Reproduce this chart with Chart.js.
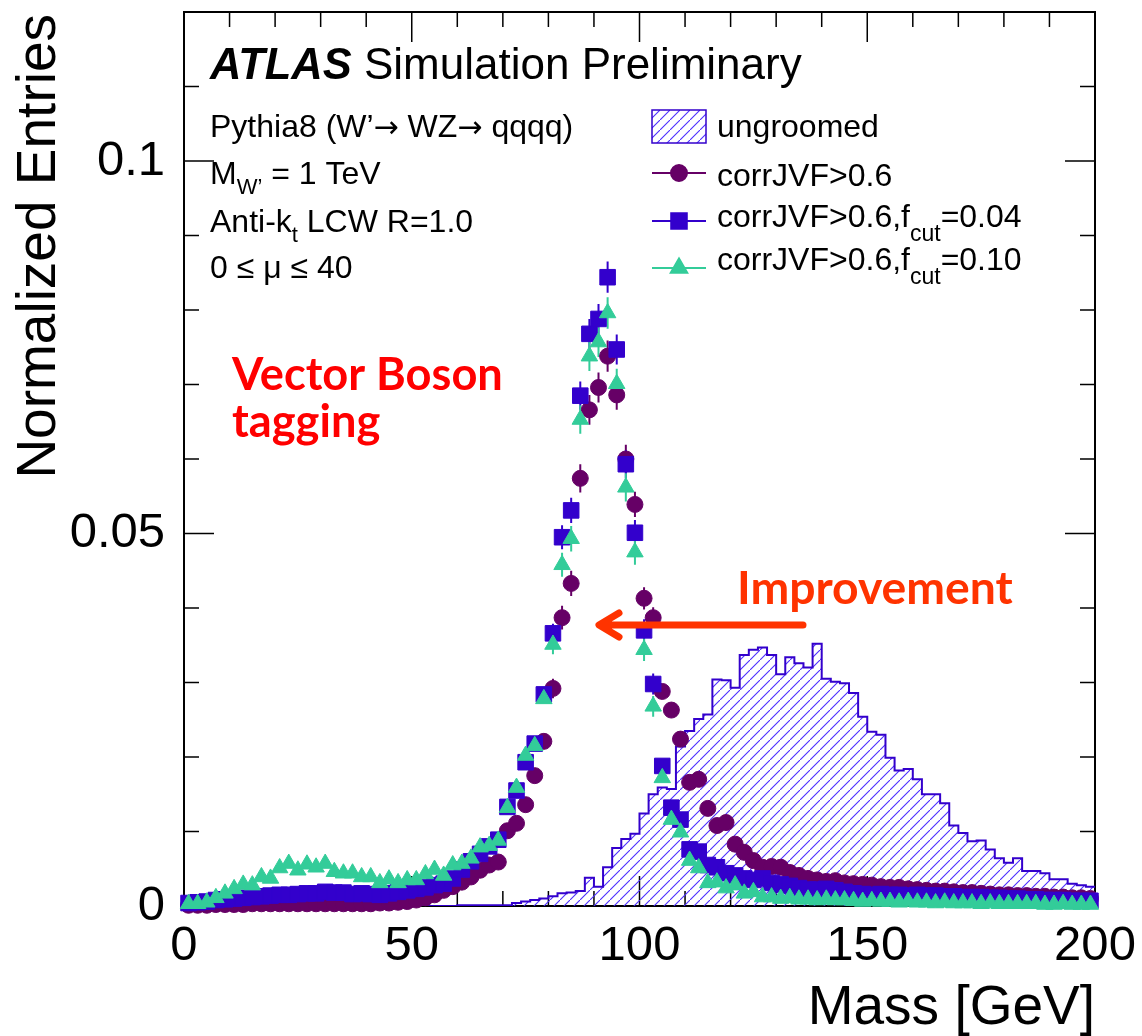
<!DOCTYPE html>
<html>
<head>
<meta charset="utf-8">
<script src="https://cdn.jsdelivr.net/npm/chart.js@4.4.1/dist/chart.umd.min.js"></script>
<style>
html, body { margin: 0; padding: 0; background: #fff; }
canvas { display: block; }
</style>
</head>
<body>
<canvas id="massChart" width="1142" height="1036"></canvas>
<script>
// bin centres in GeV (2 GeV bins)
var binCentres = [1, 3, 5, 7, 9, 11, 13, 15, 17, 19,
    21, 23, 25, 27, 29, 31, 33, 35, 37, 39,
    41, 43, 45, 47, 49, 51, 53, 55, 57, 59,
    61, 63, 65, 67, 69, 71, 73, 75, 77, 79,
    81, 83, 85, 87, 89, 91, 93, 95, 97, 99,
    101, 103, 105, 107, 109, 111, 113, 115, 117, 119,
    121, 123, 125, 127, 129, 131, 133, 135, 137, 139,
    141, 143, 145, 147, 149, 151, 153, 155, 157, 159,
    161, 163, 165, 167, 169, 171, 173, 175, 177, 179,
    181, 183, 185, 187, 189, 191, 193, 195, 197, 199];
var binWidth = 2;

var ungroomed = [0, 0, 0, 0, 0, 0, 0, 0, 0, 0,
    0, 0, 0, 0, 0, 0, 0, 0, 0, 0,
    0, 0, 0, 0, 0, 0, 0, 0, 0, 0,
    0.0001, 0.0001, 0.0001, 0.0001, 0.0001, 0.0001, 0.0004, 0.0006, 0.0008, 0.0010,
    0.0013, 0.0017, 0.0018, 0.0020, 0.0038, 0.0026, 0.0052, 0.0078, 0.0090, 0.0097,
    0.0124, 0.0150, 0.0159, 0.0157, 0.0214, 0.0235, 0.0251, 0.0257, 0.0304, 0.0303,
    0.0293, 0.0337, 0.0344, 0.0347, 0.0337, 0.0311, 0.0334, 0.0326, 0.0320, 0.0352,
    0.0305, 0.0301, 0.0299, 0.0286, 0.0254, 0.0234, 0.0230, 0.0199, 0.0182, 0.0184,
    0.0170, 0.0150, 0.0150, 0.0138, 0.0108, 0.0098, 0.0087, 0.0088, 0.0076, 0.0064,
    0.0058, 0.0064, 0.0047, 0.0047, 0.0044, 0.0036, 0.0036, 0.0030, 0.0028, 0.0026];

var corrJVF = [0.0001, 0.0001, 0.0001, 0.0002, 0.0002, 0.0002, 0.0002, 0.0003, 0.0003, 0.0003,
    0.0003, 0.0003, 0.0003, 0.0003, 0.0003, 0.0003, 0.0003, 0.0003, 0.0003, 0.0003,
    0.0003, 0.0004, 0.0004, 0.0005, 0.0006, 0.0008, 0.0011, 0.0015, 0.0021, 0.0026,
    0.0032, 0.0039, 0.0048, 0.0055, 0.0059, 0.0101, 0.0111, 0.0136, 0.0175, 0.0221,
    0.0292, 0.0387, 0.0433, 0.0574, 0.0666, 0.0696, 0.0738, 0.0686, 0.0600, 0.0539,
    0.0413, 0.0387, 0.0288, 0.0263, 0.0224, 0.0166, 0.0170, 0.0131, 0.0108, 0.0112,
    0.0083, 0.0072, 0.0061, 0.0052, 0.0053, 0.0052, 0.0045, 0.0041, 0.0037, 0.0035,
    0.0033, 0.0034, 0.0031, 0.0030, 0.0029, 0.0028, 0.0026, 0.0025, 0.0025, 0.0023,
    0.0022, 0.0021, 0.0020, 0.0020, 0.0019, 0.0018, 0.0018, 0.0017, 0.0016, 0.0015,
    0.0015, 0.0014, 0.0014, 0.0013, 0.0013, 0.0012, 0.0012, 0.0011, 0.0011, 0.0010];

var corrJVFcut04 = [0.0004, 0.0005, 0.0006, 0.0008, 0.0009, 0.0010, 0.0011, 0.0012, 0.0013, 0.0014,
    0.0015, 0.0015, 0.0016, 0.0017, 0.0017, 0.0019, 0.0018, 0.0018, 0.0016, 0.0017,
    0.0016, 0.0015, 0.0017, 0.0019, 0.0021, 0.0023, 0.0025, 0.0028, 0.0030, 0.0037,
    0.0049, 0.0060, 0.0070, 0.0080, 0.0089, 0.0133, 0.0155, 0.0193, 0.0218, 0.0284,
    0.0366, 0.0495, 0.0531, 0.0685, 0.0768, 0.0788, 0.0844, 0.0747, 0.0593, 0.0501,
    0.0370, 0.0298, 0.0188, 0.0132, 0.0116, 0.0076, 0.0073, 0.0055, 0.0052, 0.0044,
    0.0041, 0.0037, 0.0035, 0.0037, 0.0031, 0.0029, 0.0027, 0.0024, 0.0022, 0.0022,
    0.0023, 0.0021, 0.0019, 0.0017, 0.0016, 0.0015, 0.0016, 0.0015, 0.0015, 0.0014,
    0.0015, 0.0014, 0.0014, 0.0013, 0.0013, 0.0012, 0.0012, 0.0012, 0.0011, 0.0011,
    0.0010, 0.0010, 0.0009, 0.0009, 0.0008, 0.0008, 0.0008, 0.0007, 0.0007, 0.0007];

var corrJVFcut10 = [0.0003, 0.0003, 0.0005, 0.0011, 0.0017, 0.0023, 0.0029, 0.0028, 0.0039, 0.0037,
    0.0051, 0.0057, 0.0048, 0.0056, 0.0052, 0.0057, 0.0046, 0.0044, 0.0044, 0.0039,
    0.0039, 0.0031, 0.0036, 0.0031, 0.0035, 0.0035, 0.0043, 0.0049, 0.0041, 0.0055,
    0.0057, 0.0064, 0.0079, 0.0081, 0.0088, 0.0132, 0.0159, 0.0202, 0.0215, 0.0278,
    0.0351, 0.0458, 0.0493, 0.0653, 0.0738, 0.0757, 0.0796, 0.0701, 0.0562, 0.0475,
    0.0344, 0.0268, 0.0172, 0.0116, 0.0099, 0.0061, 0.0051, 0.0031, 0.0032, 0.0024,
    0.0028, 0.0017, 0.0019, 0.0012, 0.0012, 0.0010, 0.0011, 0.0009, 0.0009, 0.0008,
    0.0009, 0.0008, 0.0008, 0.0007, 0.0006, 0.0007, 0.0006, 0.0006, 0.0005, 0.0006,
    0.0005, 0.0005, 0.0004, 0.0005, 0.0004, 0.0004, 0.0004, 0.0003, 0.0004, 0.0003,
    0.0003, 0.0003, 0.0003, 0.0003, 0.0002, 0.0002, 0.0003, 0.0002, 0.0002, 0.0002];

// error bars only stick out of the markers around the peak
var peakCentres = [81, 83, 85, 87, 89, 91, 93, 95, 97, 99, 101, 103];
var peakErrors = [0.0013, 0.0016, 0.0017, 0.0019, 0.0020, 0.0020, 0.0021, 0.0020, 0.0019, 0.0017, 0.0015, 0.0014];

var xTicks = [0, 50, 100, 150, 200];
var yTicks = [0, 0.05, 0.1];
var xMinorStep = 10;
var yMinorStep = 0.01;

var purple = '#660066';
var blue = '#3300cc';
var hatchBlue = '#4a2cff';
var green = '#33cc99';
var red = '#ff0000';
var orange = '#ff3300';
var font = "'Liberation Sans', Arial, Helvetica, sans-serif";

// "/" hatching, like the ROOT 3004 fill style
function hatch(ctx) {
    var tile = document.createElement('canvas');
    tile.width = 10;
    tile.height = 10;
    var g = tile.getContext('2d');
    g.strokeStyle = hatchBlue;
    g.lineWidth = 1.1;
    g.beginPath();
    g.moveTo(-2, 12);
    g.lineTo(12, -2);
    g.stroke();
    return ctx.createPattern(tile, 'repeat');
}

function points(values) {
    return values.map(function(v, i) { return { x: binCentres[i], y: v }; });
}

function histSteps(values) {
    var pts = values.map(function(v, i) { return { x: binCentres[i] - binWidth / 2, y: v }; });
    pts.push({ x: binCentres[values.length - 1] + binWidth / 2, y: values[values.length - 1] });
    return pts;
}

// draws text pieces one after another, [text, size, dy, style, family]
function rich(ctx, x, y, parts) {
    parts.forEach(function(p) {
        ctx.font = (p[3] || '') + ' ' + p[1] + 'px ' + (p[4] || font);
        ctx.fillText(p[0], x, y + (p[2] || 0));
        x += ctx.measureText(p[0]).width;
    });
}

function fitFont(ctx, text, width, weight, family) {
    ctx.font = weight + ' 40px ' + family;
    var s = 40 * width / ctx.measureText(text).width;
    return weight + ' ' + s.toFixed(1) + 'px ' + family;
}

var canvas = document.getElementById('massChart');
var ctx0 = canvas.getContext('2d');
var hatchFill = hatch(ctx0);

var framePlugin = {
    id: 'frame',
    beforeDatasetsDraw: function(chart) {
        var ctx = chart.ctx, a = chart.chartArea;
        var xs = chart.scales.x, ys = chart.scales.y;
        ctx.save();
        ctx.strokeStyle = '#000';
        ctx.lineWidth = 2;
        ctx.strokeRect(a.left, a.top, a.right - a.left, a.bottom - a.top);
        ctx.lineWidth = 1.5;
        ctx.beginPath();
        for (var m = 0; m <= 200; m += xMinorStep) {
            var px = xs.getPixelForValue(m);
            var len = (m % 50 === 0) ? 30 : 15;
            ctx.moveTo(px, a.bottom); ctx.lineTo(px, a.bottom - len);
            ctx.moveTo(px, a.top); ctx.lineTo(px, a.top + len);
        }
        for (var k = 0; k <= 12; k++) {
            var py = ys.getPixelForValue(k * yMinorStep);
            var ylen = (k % 5 === 0) ? 30 : 15;
            ctx.moveTo(a.left, py); ctx.lineTo(a.left + ylen, py);
            ctx.moveTo(a.right, py); ctx.lineTo(a.right - ylen, py);
        }
        ctx.stroke();

        // error bars near the peak
        var series = [[corrJVF, purple], [corrJVFcut04, blue], [corrJVFcut10, green]];
        ctx.lineWidth = 2;
        series.forEach(function(s) {
            ctx.strokeStyle = s[1];
            ctx.beginPath();
            peakCentres.forEach(function(c, j) {
                var i = binCentres.indexOf(c);
                var px = xs.getPixelForValue(c);
                ctx.moveTo(px, ys.getPixelForValue(s[0][i] - peakErrors[j]));
                ctx.lineTo(px, ys.getPixelForValue(s[0][i] + peakErrors[j]));
            });
            ctx.stroke();
        });
        ctx.restore();
    },
    afterDraw: function(chart) {
        var ctx = chart.ctx, a = chart.chartArea;
        ctx.save();
        ctx.fillStyle = '#000';
        ctx.textBaseline = 'alphabetic';

        // axis titles
        ctx.font = '55px ' + font;
        ctx.textAlign = 'right';
        ctx.fillText('Mass [GeV]', a.right, 1024);
        ctx.save();
        ctx.translate(55, a.top + 2);
        ctx.rotate(-Math.PI / 2);
        ctx.fillText('Normalized Entries', 0, 0);
        ctx.restore();
        ctx.textAlign = 'left';

        // ATLAS label
        rich(ctx, 210, 79, [['ATLAS', 43.5, 0, 'italic bold'], [' Simulation Preliminary', 44, 0, '']]);

        // info block
        var arrowFont = "'DejaVu Sans', sans-serif";
        rich(ctx, 210, 137, [['Pythia8 (W\u2019', 32], ['\u2192', 30, 0, '', arrowFont], [' WZ', 32],
            ['\u2192', 30, 0, '', arrowFont], [' qqqq)', 32]]);
        rich(ctx, 210, 184, [['M', 32], ['W\u2019', 22, 10], [' = 1 TeV', 32]]);
        rich(ctx, 210, 232, [['Anti-k', 32], ['t', 22, 10], [' LCW R=1.0', 32]]);
        rich(ctx, 210, 278, [['0 \u2264 \u03bc \u2264 40', 32]]);

        // legend
        var lx0 = 652, lx1 = 706, tx = 717;
        ctx.fillStyle = hatchFill;
        ctx.fillRect(lx0, 110, lx1 - lx0, 33);
        ctx.strokeStyle = blue;
        ctx.lineWidth = 1.5;
        ctx.strokeRect(lx0, 110, lx1 - lx0, 33);
        ctx.fillStyle = '#000';
        rich(ctx, tx, 137, [['ungroomed', 32]]);
        rich(ctx, tx, 186, [['corrJVF>0.6', 32]]);
        rich(ctx, tx, 227, [['corrJVF>0.6,f', 32], ['cut', 23, 14], ['=0.04', 32]]);
        rich(ctx, tx, 270, [['corrJVF>0.6,f', 32], ['cut', 23, 14], ['=0.10', 32]]);

        var mk = [[173, purple, 'circle', 8], [221, blue, 'rect', 11], [268, green, 'triangle', 9.5]];
        mk.forEach(function(m) {
            ctx.strokeStyle = m[1];
            ctx.lineWidth = 2;
            ctx.beginPath();
            ctx.moveTo(lx0, m[0]); ctx.lineTo(lx1, m[0]);
            ctx.stroke();
            ctx.fillStyle = m[1];
            Chart.helpers.drawPoint(ctx, { pointStyle: m[2], radius: m[3], rotation: 0, borderWidth: 1 }, (lx0 + lx1) / 2, m[0]);
            ctx.fill();
        });

        // red annotations
        ctx.fillStyle = red;
        ctx.font = fitFont(ctx, 'Vector Boson', 271, 'bold', 'Lato');
        ctx.fillText('Vector Boson', 232, 390);
        ctx.fillText('tagging', 232, 437);
        ctx.fillStyle = orange;
        ctx.font = fitFont(ctx, 'Improvement', 276, 'bold', 'Lato');
        ctx.fillText('Improvement', 737, 604);

        ctx.strokeStyle = orange;
        ctx.lineWidth = 7;
        ctx.lineCap = 'round';
        ctx.lineJoin = 'round';
        ctx.beginPath();
        ctx.moveTo(803, 625); ctx.lineTo(600, 625);
        ctx.moveTo(619, 613); ctx.lineTo(599, 625); ctx.lineTo(619, 637);
        ctx.stroke();
        ctx.restore();
    }
};

var chart = new Chart(canvas, {
    type: 'scatter',
    data: {
        datasets: [{
            label: 'ungroomed',
            type: 'line',
            data: histSteps(ungroomed),
            stepped: 'before',
            borderColor: blue,
            borderWidth: 2,
            backgroundColor: hatchFill,
            fill: 'origin',
            pointRadius: 0,
            order: 10
        }, {
            label: 'corrJVF>0.6',
            data: points(corrJVF),
            pointStyle: 'circle',
            pointRadius: 8,
            backgroundColor: purple,
            borderColor: purple,
            borderWidth: 1,
            clip: false,
            order: 3
        }, {
            label: 'corrJVF>0.6,fcut=0.04',
            data: points(corrJVFcut04),
            pointStyle: 'rect',
            pointRadius: 11,
            backgroundColor: blue,
            borderColor: blue,
            borderWidth: 1,
            clip: false,
            order: 2
        }, {
            label: 'corrJVF>0.6,fcut=0.10',
            data: points(corrJVFcut10),
            pointStyle: 'triangle',
            pointRadius: 9.5,
            backgroundColor: green,
            borderColor: green,
            borderWidth: 1,
            clip: false,
            order: 1
        }]
    },
    options: {
        responsive: false,
        animation: false,
        events: [],
        layout: { padding: { top: 8, right: 47, left: 0, bottom: 0 } },
        plugins: { legend: { display: false }, tooltip: { enabled: false } },
        scales: {
            x: {
                type: 'linear',
                min: 0,
                max: 200,
                grid: { display: false },
                border: { display: false },
                afterBuildTicks: function(s) { s.ticks = xTicks.map(function(v) { return { value: v }; }); },
                ticks: {
                    maxRotation: 0,
                    autoSkip: false,
                    padding: 3,
                    color: '#000',
                    font: { family: font, size: 49 }
                },
                afterFit: function(s) { s.height = 130; s.paddingLeft = 0; s.paddingRight = 0; }
            },
            y: {
                min: 0,
                max: 0.12,
                grid: { display: false },
                border: { display: false },
                afterBuildTicks: function(s) { s.ticks = yTicks.map(function(v) { return { value: v }; }); },
                ticks: {
                    padding: 11,
                    color: '#000',
                    font: { family: font, size: 49 },
                    callback: function(v) { return String(Math.round(v * 1000) / 1000); }
                },
                afterFit: function(s) { s.width = 184; s.paddingTop = 0; s.paddingBottom = 0; }
            }
        }
    },
    plugins: [framePlugin]
});
</script>
</body>
</html>
